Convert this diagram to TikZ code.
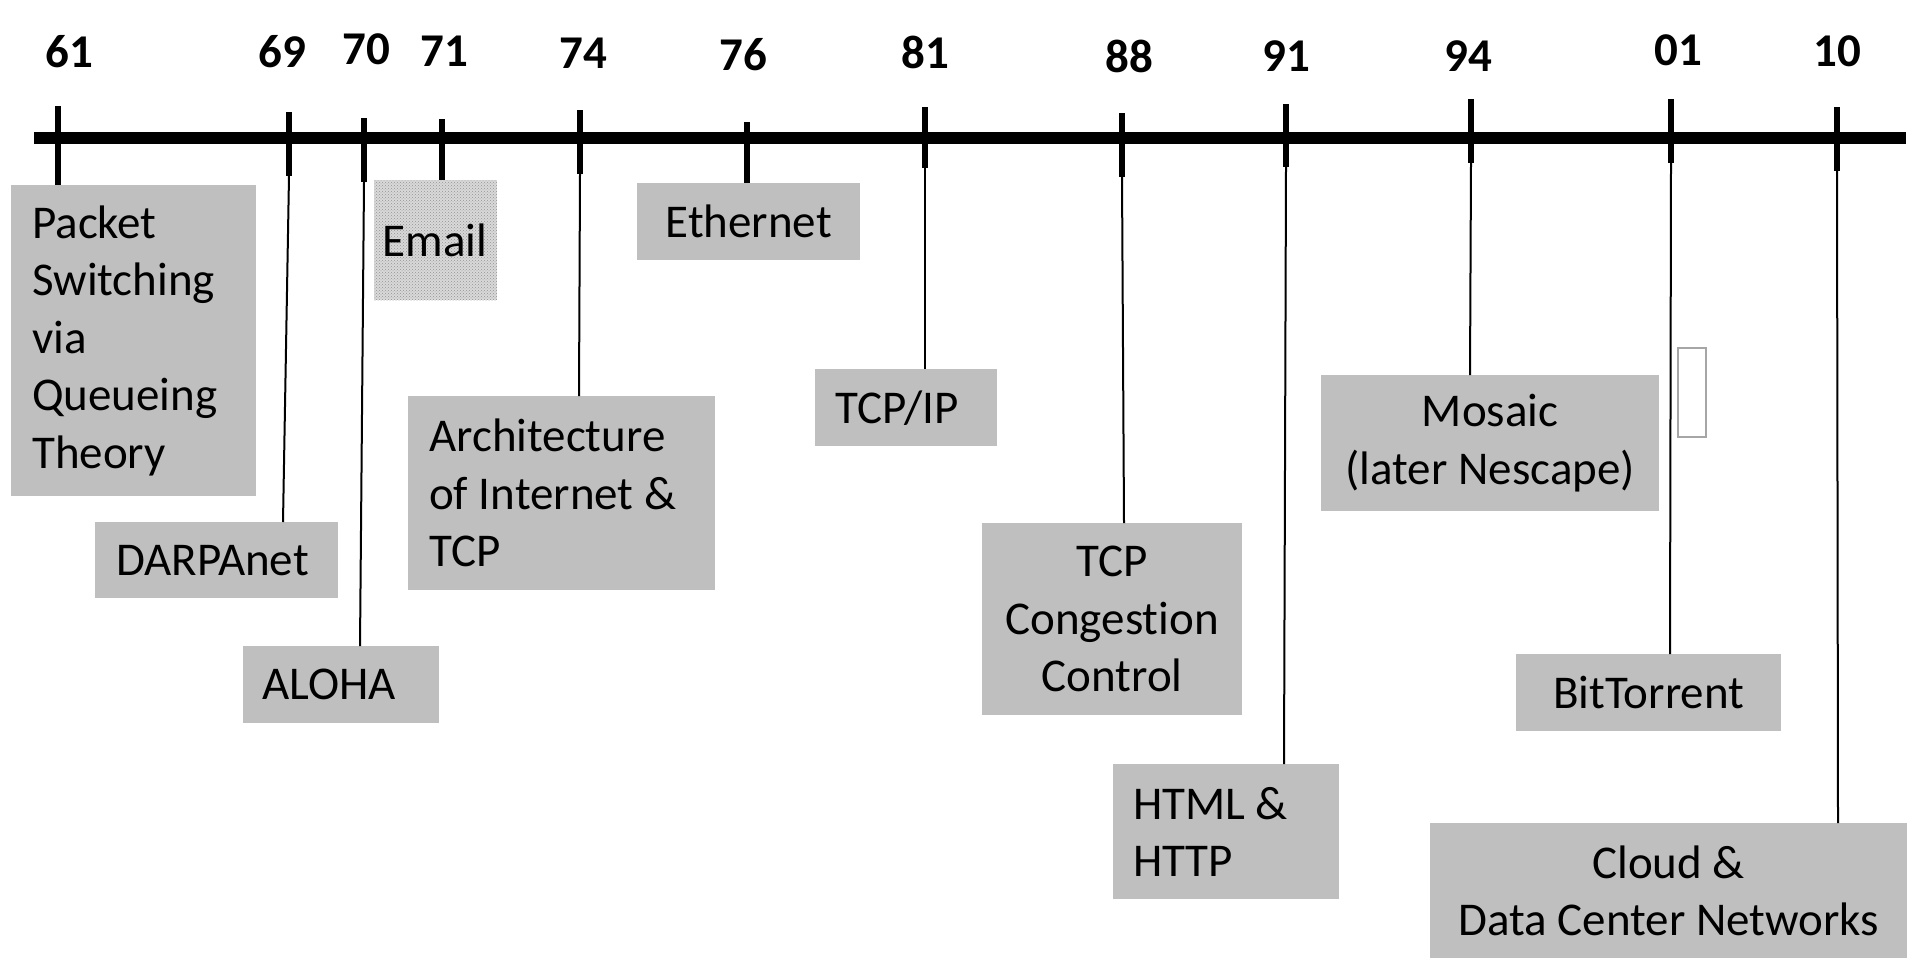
\documentclass[tikz,border=0pt]{standalone}
\usepackage{fontspec}
\setmainfont{Carlito}[Ligatures={NoCommon}]
\usetikzlibrary{patterns}
\definecolor{boxgray}{HTML}{BFBFBF}
\tikzset{
  yr/.style={font=\fontsize{47}{50}\selectfont\bfseries, inner sep=0pt},
  tick/.style={line width=6pt},
  conn/.style={line width=2pt},
  axis/.style={line width=12pt},
  boxl/.style={fill=boxgray, draw=none, anchor=north west, inner ysep=0pt,
     font=\fontsize{47}{57.5}\selectfont, align=flush left},
  boxc/.style={fill=boxgray, draw=none, anchor=north west, inner ysep=0pt,
     font=\fontsize{47}{57.5}\selectfont, align=flush center, inner xsep=0pt},
}
\begin{document}
\begin{tikzpicture}[x=1pt,y=-1pt]
\useasboundingbox (0,0) rectangle (1911,958);
% axis
\coordinate (ax1) at (34,138);
\coordinate (ax2) at (1906,138);
\draw[axis] (ax1) -- (ax2);
% year labels
\node[yr] (y61) at (69,52) {61};
\node[yr] (y69) at (282,52) {69};
\node[yr] (y70) at (366,49) {70};
\node[yr] (y71) at (444,51) {71};
\node[yr] (y74) at (583,53) {74};
\node[yr] (y76) at (743,55) {76};
\node[yr] (y81) at (925,52) {81};
\node[yr] (y88) at (1129,56) {88};
\node[yr] (y91) at (1286,56) {91};
\node[yr] (y94) at (1468,56) {94};
\node[yr] (y01) at (1678,50) {01};
\node[yr] (y10) at (1837,51) {10};
% ticks
\foreach \n/\x/\a/\b in {61/58/106/185, 69/289/112/176, 70/364/118/182, 71/442/119/182,
  74/580/110/174, 76/747/122/184, 81/925/107/168, 88/1122/113/177, 91/1286/104/167,
  94/1471/99/163, 01/1671/99/163, 10/1837/107/171}{
  \coordinate (ta\n) at (\x,\a);
  \coordinate (tb\n) at (\x,\b);
  \draw[tick] (ta\n) -- (tb\n);
}
% boxes
\node[boxl, text width=203pt, inner xsep=21pt, minimum height=311pt] (ps) at (11,185)
  {Packet\\Switching\\via\\Queueing\\Theory};
\node[boxl, text width=201pt, inner xsep=21pt, minimum height=76pt] (darpa) at (95,522) {DARPAnet};
\node[boxl, text width=158pt, inner xsep=19pt, minimum height=77pt] (aloha) at (243,646) {ALOHA};
\node[boxc, minimum width=123pt, minimum height=120pt, fill=gray!30,
  postaction={pattern=crosshatch dots, pattern color=gray!85}] (email) at (374,180) {};
\node[font=\fontsize{47}{57.5}\selectfont, inner sep=0pt] (emailt) at (435,240) {Email};
\node[boxl, text width=265pt, inner xsep=21pt, minimum height=194pt] (arch) at (408,396)
  {Architecture\\of Internet \&\\TCP};
\node[boxc, minimum width=223pt, minimum height=77pt] (eth) at (637,183) {Ethernet};
\node[boxl, text width=142pt, inner xsep=20pt, minimum height=77pt] (tcpip) at (815,369) {TCP/IP};
\node[boxc, minimum width=260pt, minimum height=192pt] (tcpcc) at (982,523)
  {TCP\\Congest\kern0pt ion\\Control};
\node[boxl, text width=186pt, inner xsep=20pt, minimum height=135pt] (html) at (1113,764)
  {HTML \&\\HTTP};
\node[boxc, minimum width=338pt, minimum height=136pt] (mosaic) at (1321,375)
  {Mosaic\\(later Nescape)};
\node[boxc, minimum width=265pt, minimum height=77pt] (bt) at (1516,654) {BitTorrent};
\node[boxc, minimum width=477pt, minimum height=135pt] (cloud) at (1430,823)
  {Cloud \&\\Data Center Networks};
\node[draw=gray!70, line width=1.5pt, anchor=north west, minimum width=28pt,
  minimum height=89pt, inner sep=0pt] (blank) at (1677,347) {};
% connector ends on boxes
\coordinate (c69) at (283,522);
\coordinate (c70) at (360,646);
\coordinate (c74) at (579,396);
\coordinate (c81) at (925,369);
\coordinate (c88) at (1124,523);
\coordinate (c91) at (1284,764);
\coordinate (c94) at (1470,375);
\coordinate (c01) at (1670,654);
\coordinate (c10) at (1838,823);
\draw[conn] (tb69) -- (c69);
\draw[conn] (tb70) -- (c70);
\draw[conn] (tb74) -- (c74);
\draw[conn] (tb81) -- (c81);
\draw[conn] (tb88) -- (c88);
\draw[conn] (tb91) -- (c91);
\draw[conn] (tb94) -- (c94);
\draw[conn] (tb01) -- (c01);
\draw[conn] (tb10) -- (c10);
\end{tikzpicture}
\end{document}
